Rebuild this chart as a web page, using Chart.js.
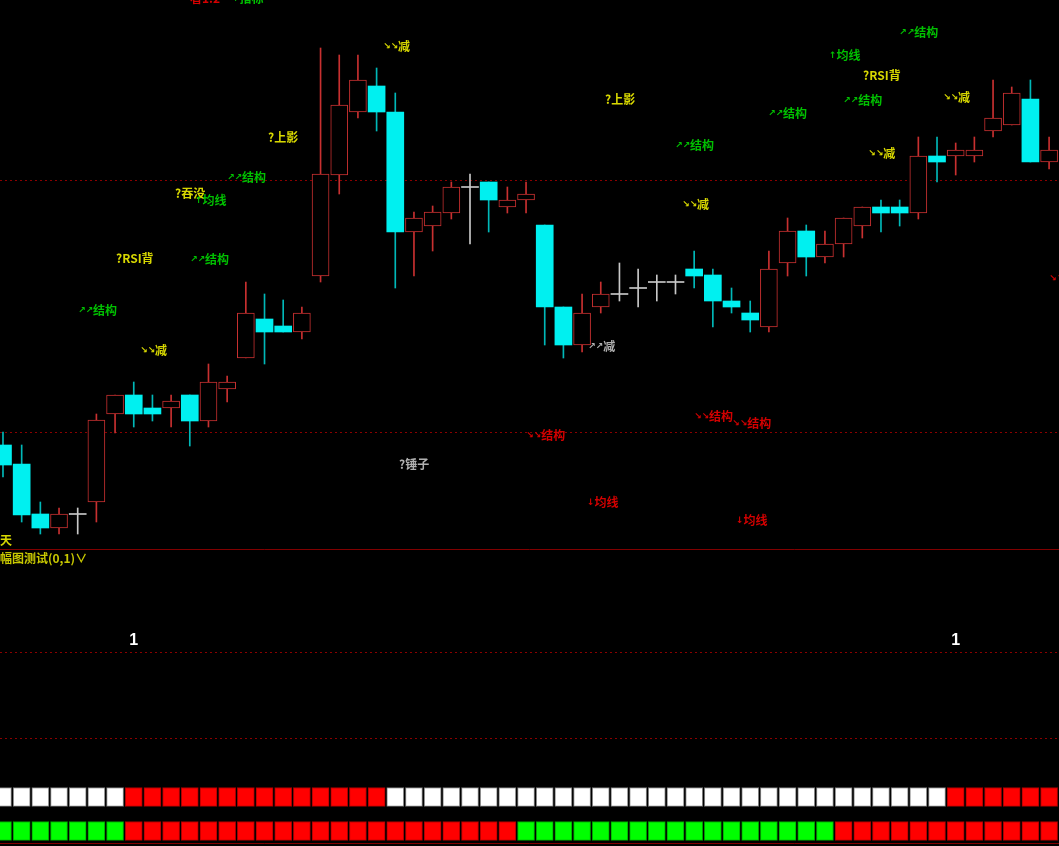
<!DOCTYPE html>
<html>
<head>
<meta charset="utf-8">
<script src="https://cdn.jsdelivr.net/npm/chart.js@4.4.1/dist/chart.umd.min.js"></script>
<style>
  html, body { margin: 0; padding: 0; background: #000; overflow: hidden; }
  canvas { display: block; }
</style>
</head>
<body>
<canvas id="kline" width="1059" height="549"></canvas>
<canvas id="sub" width="1059" height="297"></canvas>
<script>
// daily bars
const opens = [
  15.55, 15.36, 14.86, 14.72, 14.86, 14.98, 15.86, 16.05, 15.92, 15.92,
  16.05, 15.79, 16.11, 16.42, 16.81, 16.74, 16.68, 17.24, 18.25, 18.88,
  19.14, 18.88, 17.68, 17.74, 17.87, 18.13, 18.18, 17.93, 18.00, 17.75,
  16.93, 16.55, 16.93, 17.06, 17.12, 17.18, 17.18, 17.31, 17.25, 16.99,
  16.87, 16.73, 17.37, 17.69, 17.43, 17.56, 17.74, 17.93, 17.93, 17.87,
  18.44, 18.44, 18.44, 18.69, 18.75, 19.01, 18.38
];
const closes = [
  15.35, 14.85, 14.72, 14.86, 14.86, 15.80, 16.05, 15.86, 15.86, 15.99,
  15.79, 16.18, 16.18, 16.87, 16.68, 16.68, 16.87, 18.26, 18.95, 19.20,
  18.88, 17.68, 17.82, 17.88, 18.13, 18.13, 18.00, 18.00, 18.06, 16.93,
  16.55, 16.87, 17.06, 17.06, 17.12, 17.18, 17.18, 17.24, 16.99, 16.93,
  16.80, 17.31, 17.69, 17.43, 17.56, 17.82, 17.93, 17.87, 17.87, 18.44,
  18.38, 18.50, 18.50, 18.82, 19.07, 18.38, 18.50
];
const highs = [
  15.68, 15.55, 14.98, 14.92, 14.92, 15.86, 16.05, 16.18, 16.05, 16.05,
  16.05, 16.36, 16.24, 17.18, 17.06, 17.00, 16.93, 19.52, 19.45, 19.45,
  19.32, 19.07, 17.88, 17.94, 18.18, 18.26, 18.18, 18.13, 18.18, 17.75,
  16.93, 17.06, 17.18, 17.37, 17.31, 17.25, 17.25, 17.49, 17.31, 17.12,
  16.99, 17.49, 17.82, 17.75, 17.69, 17.82, 17.93, 18.00, 18.00, 18.63,
  18.63, 18.57, 18.63, 19.20, 19.13, 19.20, 18.63
];
const lows = [
  15.23, 14.78, 14.66, 14.66, 14.66, 14.78, 15.67, 15.73, 15.79, 15.73,
  15.54, 15.73, 15.98, 16.42, 16.36, 16.68, 16.61, 17.18, 18.06, 18.82,
  18.69, 17.12, 17.24, 17.49, 17.81, 17.56, 17.68, 17.87, 17.87, 16.55,
  16.42, 16.48, 16.87, 16.99, 16.93, 16.99, 17.06, 17.12, 16.73, 16.87,
  16.68, 16.68, 17.24, 17.24, 17.37, 17.43, 17.62, 17.68, 17.74, 17.81,
  18.18, 18.25, 18.38, 18.63, 18.75, 18.38, 18.31
];
const gridPrices = [15.68, 18.19];

// signal notes on the main pane: text, bar index, price level, colour
const noteTexts = [
  "看1.2", "↑指标", "↘↘减", "?上影", "↗↗结构", "?吞没", "↑均线", "?RSI背", "↗↗结构", "↗↗结构",
  "↘↘减", "天", "?上影", "↗↗结构", "↘↘减", "↗↗结构", "↑均线", "?RSI背", "↗↗结构", "↗↗结构",
  "↘↘减", "↘↘减", "↘↘结构", "↗↗减", "↘↘结构", "?锤子", "↓均线", "↘↘结构", "↘↘结构", "↓均线"
];
const noteIdx = [
  10.01, 12.26, 20.34, 14.19, 11.99, 9.21, 10.28, 6.05, 10.01, 4.01,
  7.33, -0.16, 32.23, 35.97, 36.35, 47.97, 44.22, 46.04, 44.97, 40.95,
  50.32, 46.31, 56.0, 31.32, 28.0, 21.2, 31.26, 36.99, 39.03, 39.24
];
const notePrices = [
  20.02, 20.02, 19.54, 18.63, 18.23, 18.07, 18.00, 17.42, 17.41, 16.90,
  16.50, 14.60, 19.01, 18.55, 17.96, 19.68, 19.45, 19.25, 19.00, 18.87,
  19.03, 18.47, 17.22, 16.54, 15.65, 15.36, 14.98, 15.84, 15.77, 14.80
];
const noteColors = [
  "red", "green", "yellow", "yellow", "green", "yellow", "green", "yellow", "green", "green",
  "yellow", "yellow", "yellow", "green", "yellow", "green", "green", "yellow", "green", "green",
  "yellow", "yellow", "red", "grey", "red", "grey", "red", "red", "red", "red"
];

// sub pane: two state rows (0/1 per bar)
const rowA = [
  0, 0, 0, 0, 0, 0, 0, 1, 1, 1,
  1, 1, 1, 1, 1, 1, 1, 1, 1, 1,
  1, 0, 0, 0, 0, 0, 0, 0, 0, 0,
  0, 0, 0, 0, 0, 0, 0, 0, 0, 0,
  0, 0, 0, 0, 0, 0, 0, 0, 0, 0,
  0, 1, 1, 1, 1, 1, 1
];
const rowB = [
  0, 0, 0, 0, 0, 0, 0, 1, 1, 1,
  1, 1, 1, 1, 1, 1, 1, 1, 1, 1,
  1, 1, 1, 1, 1, 1, 1, 1, 0, 0,
  0, 0, 0, 0, 0, 0, 0, 0, 0, 0,
  0, 0, 0, 0, 0, 1, 1, 1, 1, 1,
  1, 1, 1, 1, 1, 1, 1
];
const rowALevels = [-0.57, -0.79];
const rowBLevels = [-0.965, -1.185];
const subGrid = [0, 1];
const subTitle = "幅图测试(0,1)∨";

const palette = {
  red: "#d40000",
  green: "#00c000",
  yellow: "#d8d800",
  grey: "#b0b0b0",
};
const UP = "#c83030";
const DOWN = "#00f0f0";
const DOWN_WICK = "#00b8b8";
const FLAT = "#c8c8c8";
const GRID = "#8b0000";

const idx = opens.map((_, i) => i);
const kind = i => (closes[i] > opens[i] ? "up" : closes[i] < opens[i] ? "down" : "flat");

const makeX = () => ({
  type: "linear",
  min: -0.16,
  max: 56.53,
  offset: false,
  display: false,
  grid: { offset: false },
});

const noteLabels = {
  id: "noteLabels",
  afterDatasetsDraw(chart) {
    const { ctx, scales } = chart;
    ctx.save();
    ctx.textBaseline = "middle";
    ctx.textAlign = "left";
    noteTexts.forEach((text, k) => {
      let x = scales.x.getPixelForValue(noteIdx[k]);
      const y = scales.y.getPixelForValue(notePrices[k]);
      ctx.fillStyle = palette[noteColors[k]];
      const m = text.match(/^[↗↘↑↓]+/);
      if (m) {
        ctx.font = 'bold 9px "DejaVu Sans"';
        ctx.fillText(m[0], x, y + 1);
        x += ctx.measureText(m[0]).width;
        text = text.slice(m[0].length);
      }
      ctx.font = 'bold 12px "Noto Sans CJK SC"';
      ctx.fillText(text, x, y);
    });
    ctx.restore();
  },
};

new Chart(document.querySelector("#kline"), {
  type: "bar",
  data: {
    datasets: [
      {
        data: idx.map(i => ({
          x: i,
          y: kind(i) === "flat" ? [opens[i] - 0.005, opens[i] + 0.005] : [opens[i], closes[i]],
        })),
        backgroundColor: idx.map(i => ({ up: "#000", down: DOWN, flat: FLAT })[kind(i)]),
        borderColor: idx.map(i => ({ up: UP, down: DOWN, flat: FLAT })[kind(i)]),
        borderWidth: idx.map(i => (kind(i) === "up" ? 1 : 0)),
        borderSkipped: false,
        barThickness: 17,
        grouped: false,
        order: 0,
      },
      {
        data: idx.map(i => ({ x: i, y: [lows[i], highs[i]] })),
        backgroundColor: idx.map(i => ({ up: UP, down: DOWN_WICK, flat: FLAT })[kind(i)]),
        barThickness: 1,
        grouped: false,
        order: 1,
      },
    ],
  },
  options: {
    responsive: false,
    animation: false,
    devicePixelRatio: 1,
    layout: { padding: 0 },
    plugins: { legend: { display: false }, tooltip: { enabled: false } },
    scales: {
      x: makeX(),
      y: {
        min: 14.51,
        max: 20.0,
        afterBuildTicks: s => {
          s.ticks = gridPrices.map(v => ({ value: v }));
        },
        ticks: { display: false },
        border: { display: false, dash: [2, 3] },
        grid: { color: GRID, drawTicks: false },
      },
    },
  },
  plugins: [noteLabels],
});

const subDecor = {
  id: "subDecor",
  afterDatasetsDraw(chart) {
    const { ctx, scales } = chart;
    ctx.save();
    ctx.strokeStyle = "#800000";
    ctx.lineWidth = 1;
    ctx.beginPath();
    ctx.moveTo(0, 0.5);
    ctx.lineTo(chart.width, 0.5);
    const yb = Math.round(scales.y.getPixelForValue(-1.22)) + 0.5;
    ctx.moveTo(0, yb);
    ctx.lineTo(chart.width, yb);
    ctx.stroke();

    ctx.fillStyle = "#c8c800";
    ctx.font = 'bold 12px "Noto Sans CJK SC"';
    ctx.textBaseline = "middle";
    ctx.fillText(subTitle, 0, 9);

    ctx.fillStyle = "#ffffff";
    ctx.font = 'bold 16px "Liberation Sans"';
    ctx.textAlign = "center";
    ctx.textBaseline = "bottom";
    rowA.forEach((v, i) => {
      if (v === 1 && rowA[i - 1] === 0) {
        ctx.fillText("1", scales.x.getPixelForValue(i), scales.y.getPixelForValue(1) - 4);
      }
    });
    ctx.restore();
  },
};

new Chart(document.querySelector("#sub"), {
  type: "bar",
  data: {
    datasets: [
      {
        data: idx.map(i => ({ x: i, y: rowALevels })),
        backgroundColor: rowA.map(v => (v ? "#ff0000" : "#ffffff")),
        borderColor: rowA.map(v => (v ? "#a80000" : "#7a7a7a")),
        borderWidth: 1,
        borderSkipped: false,
        barThickness: 17,
        grouped: false,
      },
      {
        data: idx.map(i => ({ x: i, y: rowBLevels })),
        backgroundColor: rowB.map(v => (v ? "#ff0000" : "#00ff00")),
        borderColor: rowB.map(v => (v ? "#a80000" : "#00a000")),
        borderWidth: 1,
        borderSkipped: false,
        barThickness: 17,
        grouped: false,
      },
    ],
  },
  options: {
    responsive: false,
    animation: false,
    devicePixelRatio: 1,
    layout: { padding: 0 },
    plugins: { legend: { display: false }, tooltip: { enabled: false } },
    scales: {
      x: makeX(),
      y: {
        min: -1.25,
        max: 2.2,
        afterBuildTicks: s => {
          s.ticks = subGrid.map(v => ({ value: v }));
        },
        ticks: { display: false },
        border: { display: false, dash: [2, 3] },
        grid: { color: GRID, drawTicks: false },
      },
    },
  },
  plugins: [subDecor],
});
</script>
</body>
</html>
